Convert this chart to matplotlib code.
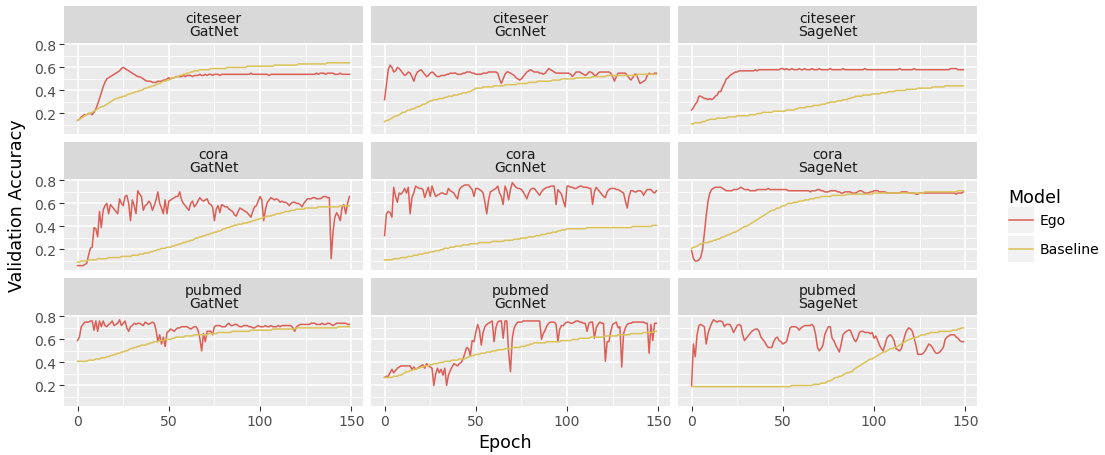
import numpy as np
import matplotlib.pyplot as plt

# validation accuracy per epoch (150 epochs) for each dataset / network
epochs = np.arange(150)

citeseer_gat_ego = [
    0.14, 0.15, 0.17, 0.18, 0.19, 0.19, 0.20, 0.20, 0.19, 0.21,
    0.24, 0.28, 0.33, 0.38, 0.43, 0.47, 0.50, 0.51, 0.52, 0.53,
    0.54, 0.55, 0.56, 0.57, 0.59, 0.60, 0.59, 0.58, 0.57, 0.56,
    0.55, 0.54, 0.53, 0.52, 0.52, 0.51, 0.50, 0.49, 0.48, 0.48,
    0.48, 0.47, 0.47, 0.47, 0.48, 0.48, 0.48, 0.49, 0.49, 0.50,
    0.51, 0.50, 0.51, 0.51, 0.52, 0.52, 0.52, 0.52, 0.53, 0.52,
    0.53, 0.53, 0.53, 0.52, 0.53, 0.53, 0.53, 0.54, 0.53, 0.53,
    0.54, 0.53, 0.54, 0.54, 0.53, 0.54, 0.54, 0.54, 0.53, 0.54,
    0.54, 0.54, 0.54, 0.54, 0.54, 0.54, 0.54, 0.54, 0.54, 0.54,
    0.54, 0.54, 0.54, 0.54, 0.54, 0.55, 0.54, 0.54, 0.54, 0.54,
    0.54, 0.54, 0.54, 0.54, 0.54, 0.53, 0.54, 0.54, 0.54, 0.54,
    0.54, 0.54, 0.54, 0.54, 0.54, 0.54, 0.54, 0.54, 0.54, 0.54,
    0.54, 0.54, 0.54, 0.54, 0.54, 0.54, 0.54, 0.54, 0.54, 0.54,
    0.54, 0.55, 0.54, 0.55, 0.55, 0.55, 0.54, 0.55, 0.55, 0.55,
    0.55, 0.54, 0.54, 0.54, 0.55, 0.54, 0.54, 0.54, 0.54, 0.54]
citeseer_gat_base = [
    0.14, 0.15, 0.16, 0.17, 0.18, 0.19, 0.20, 0.20, 0.21, 0.22,
    0.23, 0.24, 0.25, 0.26, 0.26, 0.27, 0.28, 0.29, 0.30, 0.31,
    0.32, 0.33, 0.33, 0.34, 0.34, 0.35, 0.35, 0.36, 0.37, 0.37,
    0.38, 0.38, 0.39, 0.39, 0.40, 0.40, 0.41, 0.42, 0.42, 0.43,
    0.43, 0.44, 0.44, 0.45, 0.46, 0.46, 0.47, 0.48, 0.48, 0.49,
    0.49, 0.50, 0.51, 0.51, 0.52, 0.52, 0.53, 0.53, 0.54, 0.54,
    0.55, 0.55, 0.56, 0.56, 0.57, 0.57, 0.57, 0.58, 0.58, 0.58,
    0.58, 0.58, 0.58, 0.59, 0.59, 0.59, 0.59, 0.59, 0.59, 0.59,
    0.59, 0.59, 0.60, 0.60, 0.60, 0.60, 0.60, 0.60, 0.60, 0.60,
    0.60, 0.60, 0.60, 0.61, 0.61, 0.61, 0.61, 0.61, 0.61, 0.61,
    0.61, 0.61, 0.61, 0.61, 0.61, 0.61, 0.61, 0.61, 0.62, 0.62,
    0.62, 0.62, 0.62, 0.62, 0.62, 0.62, 0.62, 0.62, 0.62, 0.62,
    0.62, 0.63, 0.63, 0.63, 0.63, 0.63, 0.63, 0.63, 0.63, 0.63,
    0.63, 0.63, 0.63, 0.63, 0.63, 0.63, 0.63, 0.64, 0.64, 0.64,
    0.64, 0.64, 0.64, 0.64, 0.64, 0.64, 0.64, 0.64, 0.64, 0.64]

citeseer_gcn_ego = [
    0.32, 0.45, 0.58, 0.62, 0.60, 0.56, 0.57, 0.60, 0.59, 0.57,
    0.55, 0.53, 0.54, 0.56, 0.55, 0.52, 0.48, 0.53, 0.56, 0.57,
    0.58, 0.56, 0.54, 0.52, 0.53, 0.55, 0.56, 0.55, 0.53, 0.52,
    0.52, 0.53, 0.53, 0.53, 0.54, 0.54, 0.55, 0.55, 0.55, 0.55,
    0.54, 0.54, 0.54, 0.55, 0.55, 0.56, 0.56, 0.56, 0.55, 0.55,
    0.54, 0.54, 0.54, 0.54, 0.55, 0.55, 0.55, 0.56, 0.56, 0.56,
    0.56, 0.56, 0.55, 0.50, 0.46, 0.50, 0.54, 0.56, 0.56, 0.55,
    0.54, 0.53, 0.51, 0.50, 0.49, 0.50, 0.52, 0.54, 0.56, 0.57,
    0.58, 0.57, 0.56, 0.56, 0.56, 0.55, 0.55, 0.54, 0.55, 0.57,
    0.59, 0.58, 0.57, 0.56, 0.55, 0.55, 0.55, 0.55, 0.55, 0.55,
    0.55, 0.55, 0.54, 0.52, 0.54, 0.56, 0.56, 0.56, 0.55, 0.54,
    0.53, 0.54, 0.56, 0.56, 0.55, 0.53, 0.53, 0.55, 0.56, 0.56,
    0.56, 0.56, 0.56, 0.56, 0.55, 0.52, 0.48, 0.52, 0.55, 0.55,
    0.55, 0.55, 0.55, 0.53, 0.51, 0.49, 0.51, 0.54, 0.54, 0.50,
    0.46, 0.47, 0.48, 0.49, 0.53, 0.55, 0.54, 0.54, 0.55, 0.55]
citeseer_gcn_base = [
    0.13, 0.14, 0.14, 0.15, 0.16, 0.17, 0.18, 0.18, 0.19, 0.20,
    0.21, 0.21, 0.22, 0.23, 0.23, 0.24, 0.24, 0.25, 0.26, 0.26,
    0.27, 0.28, 0.28, 0.29, 0.30, 0.31, 0.31, 0.32, 0.32, 0.32,
    0.33, 0.33, 0.33, 0.34, 0.34, 0.35, 0.35, 0.35, 0.36, 0.36,
    0.36, 0.37, 0.37, 0.38, 0.38, 0.38, 0.39, 0.39, 0.40, 0.41,
    0.42, 0.42, 0.42, 0.42, 0.43, 0.43, 0.43, 0.43, 0.43, 0.43,
    0.44, 0.44, 0.44, 0.44, 0.44, 0.44, 0.45, 0.45, 0.45, 0.45,
    0.45, 0.45, 0.45, 0.46, 0.46, 0.46, 0.46, 0.46, 0.46, 0.47,
    0.47, 0.47, 0.47, 0.47, 0.48, 0.48, 0.48, 0.48, 0.48, 0.48,
    0.48, 0.48, 0.49, 0.49, 0.49, 0.49, 0.49, 0.50, 0.50, 0.50,
    0.50, 0.50, 0.50, 0.50, 0.50, 0.51, 0.51, 0.51, 0.51, 0.51,
    0.51, 0.51, 0.51, 0.51, 0.52, 0.52, 0.52, 0.52, 0.52, 0.52,
    0.52, 0.52, 0.53, 0.53, 0.53, 0.53, 0.53, 0.53, 0.53, 0.53,
    0.53, 0.53, 0.53, 0.53, 0.53, 0.53, 0.53, 0.53, 0.53, 0.54,
    0.54, 0.54, 0.54, 0.54, 0.54, 0.54, 0.54, 0.54, 0.54, 0.54]

citeseer_sage_ego = [
    0.23, 0.25, 0.28, 0.30, 0.35, 0.35, 0.34, 0.33, 0.33, 0.32,
    0.33, 0.32, 0.33, 0.35, 0.36, 0.39, 0.39, 0.43, 0.46, 0.50,
    0.51, 0.53, 0.54, 0.55, 0.56, 0.56, 0.57, 0.57, 0.57, 0.57,
    0.57, 0.57, 0.57, 0.57, 0.57, 0.58, 0.57, 0.58, 0.58, 0.58,
    0.58, 0.58, 0.58, 0.58, 0.58, 0.58, 0.58, 0.58, 0.58, 0.59,
    0.59, 0.58, 0.59, 0.58, 0.58, 0.59, 0.58, 0.58, 0.58, 0.59,
    0.58, 0.58, 0.59, 0.58, 0.58, 0.58, 0.59, 0.58, 0.58, 0.58,
    0.59, 0.58, 0.58, 0.58, 0.58, 0.58, 0.59, 0.58, 0.58, 0.58,
    0.58, 0.58, 0.58, 0.59, 0.58, 0.58, 0.58, 0.58, 0.58, 0.58,
    0.58, 0.58, 0.58, 0.58, 0.58, 0.59, 0.58, 0.58, 0.58, 0.58,
    0.58, 0.58, 0.58, 0.58, 0.58, 0.58, 0.58, 0.58, 0.58, 0.58,
    0.58, 0.58, 0.58, 0.58, 0.59, 0.58, 0.58, 0.58, 0.58, 0.58,
    0.58, 0.58, 0.59, 0.58, 0.58, 0.58, 0.58, 0.58, 0.58, 0.58,
    0.58, 0.58, 0.58, 0.58, 0.58, 0.58, 0.58, 0.58, 0.58, 0.58,
    0.58, 0.58, 0.59, 0.59, 0.59, 0.59, 0.58, 0.58, 0.58, 0.58]
citeseer_sage_base = [
    0.11, 0.11, 0.12, 0.12, 0.12, 0.12, 0.13, 0.13, 0.14, 0.14,
    0.15, 0.15, 0.15, 0.15, 0.16, 0.16, 0.16, 0.16, 0.16, 0.16,
    0.17, 0.17, 0.17, 0.17, 0.17, 0.18, 0.18, 0.18, 0.18, 0.18,
    0.18, 0.18, 0.19, 0.19, 0.19, 0.19, 0.20, 0.20, 0.20, 0.21,
    0.21, 0.21, 0.21, 0.21, 0.21, 0.22, 0.22, 0.22, 0.22, 0.22,
    0.22, 0.22, 0.23, 0.23, 0.23, 0.23, 0.23, 0.24, 0.24, 0.25,
    0.25, 0.25, 0.25, 0.26, 0.26, 0.26, 0.26, 0.27, 0.27, 0.27,
    0.27, 0.28, 0.28, 0.28, 0.29, 0.29, 0.30, 0.30, 0.30, 0.30,
    0.31, 0.31, 0.31, 0.32, 0.32, 0.32, 0.33, 0.33, 0.34, 0.34,
    0.35, 0.35, 0.35, 0.35, 0.36, 0.36, 0.36, 0.36, 0.36, 0.37,
    0.37, 0.37, 0.37, 0.37, 0.38, 0.38, 0.38, 0.38, 0.39, 0.39,
    0.39, 0.39, 0.40, 0.40, 0.40, 0.40, 0.40, 0.40, 0.41, 0.41,
    0.41, 0.41, 0.41, 0.41, 0.42, 0.42, 0.42, 0.42, 0.42, 0.42,
    0.42, 0.42, 0.43, 0.43, 0.43, 0.43, 0.43, 0.43, 0.43, 0.44,
    0.44, 0.44, 0.44, 0.44, 0.44, 0.44, 0.44, 0.44, 0.44, 0.44]

cora_gat_ego = [
    0.06, 0.06, 0.06, 0.06, 0.07, 0.08, 0.15, 0.21, 0.22, 0.39,
    0.38, 0.31, 0.53, 0.39, 0.54, 0.58, 0.60, 0.51, 0.59, 0.57,
    0.55, 0.53, 0.51, 0.64, 0.60, 0.58, 0.66, 0.67, 0.60, 0.45,
    0.63, 0.58, 0.51, 0.71, 0.68, 0.66, 0.54, 0.58, 0.59, 0.62,
    0.60, 0.54, 0.58, 0.63, 0.70, 0.60, 0.56, 0.51, 0.63, 0.51,
    0.62, 0.63, 0.64, 0.65, 0.66, 0.66, 0.70, 0.63, 0.60, 0.58,
    0.56, 0.54, 0.60, 0.62, 0.57, 0.59, 0.62, 0.65, 0.63, 0.62,
    0.63, 0.64, 0.60, 0.59, 0.57, 0.45, 0.55, 0.58, 0.52, 0.59,
    0.58, 0.57, 0.57, 0.55, 0.54, 0.53, 0.50, 0.49, 0.53, 0.56,
    0.55, 0.54, 0.53, 0.52, 0.50, 0.48, 0.53, 0.57, 0.58, 0.62,
    0.66, 0.63, 0.45, 0.55, 0.61, 0.63, 0.65, 0.64, 0.63, 0.64,
    0.63, 0.61, 0.62, 0.61, 0.61, 0.60, 0.58, 0.60, 0.61, 0.61,
    0.60, 0.60, 0.59, 0.57, 0.60, 0.62, 0.64, 0.64, 0.64, 0.65,
    0.65, 0.64, 0.64, 0.64, 0.65, 0.66, 0.66, 0.65, 0.65, 0.12,
    0.35, 0.48, 0.52, 0.49, 0.45, 0.57, 0.59, 0.51, 0.60, 0.66]
cora_gat_base = [
    0.09, 0.09, 0.10, 0.10, 0.10, 0.10, 0.11, 0.11, 0.11, 0.11,
    0.11, 0.12, 0.12, 0.12, 0.12, 0.12, 0.12, 0.13, 0.13, 0.13,
    0.13, 0.13, 0.13, 0.13, 0.14, 0.14, 0.14, 0.14, 0.14, 0.14,
    0.15, 0.15, 0.15, 0.15, 0.16, 0.16, 0.16, 0.17, 0.17, 0.17,
    0.18, 0.18, 0.19, 0.19, 0.20, 0.20, 0.21, 0.21, 0.21, 0.22,
    0.22, 0.22, 0.23, 0.23, 0.24, 0.24, 0.25, 0.25, 0.26, 0.26,
    0.27, 0.27, 0.28, 0.28, 0.29, 0.30, 0.30, 0.31, 0.31, 0.32,
    0.32, 0.33, 0.33, 0.34, 0.34, 0.35, 0.35, 0.36, 0.36, 0.37,
    0.38, 0.38, 0.39, 0.39, 0.40, 0.40, 0.41, 0.41, 0.42, 0.42,
    0.42, 0.43, 0.43, 0.43, 0.44, 0.44, 0.45, 0.45, 0.46, 0.46,
    0.47, 0.47, 0.48, 0.48, 0.49, 0.49, 0.49, 0.50, 0.50, 0.51,
    0.51, 0.51, 0.52, 0.52, 0.53, 0.53, 0.53, 0.54, 0.54, 0.54,
    0.55, 0.55, 0.55, 0.55, 0.55, 0.56, 0.56, 0.56, 0.56, 0.56,
    0.56, 0.56, 0.57, 0.57, 0.57, 0.57, 0.57, 0.57, 0.57, 0.57,
    0.57, 0.57, 0.57, 0.57, 0.58, 0.58, 0.58, 0.58, 0.58, 0.58]

cora_gcn_ego = [
    0.32, 0.51, 0.53, 0.52, 0.48, 0.74, 0.66, 0.61, 0.69, 0.68,
    0.70, 0.73, 0.69, 0.74, 0.51, 0.65, 0.69, 0.75, 0.74, 0.73,
    0.73, 0.72, 0.65, 0.70, 0.74, 0.66, 0.75, 0.70, 0.66, 0.67,
    0.68, 0.69, 0.69, 0.68, 0.68, 0.73, 0.71, 0.70, 0.69, 0.66,
    0.64, 0.72, 0.74, 0.75, 0.76, 0.76, 0.76, 0.74, 0.72, 0.66,
    0.73, 0.73, 0.72, 0.71, 0.69, 0.61, 0.51, 0.63, 0.70, 0.71,
    0.72, 0.73, 0.75, 0.69, 0.66, 0.59, 0.75, 0.71, 0.63, 0.72,
    0.78, 0.76, 0.74, 0.73, 0.73, 0.72, 0.70, 0.67, 0.64, 0.69,
    0.72, 0.73, 0.73, 0.71, 0.69, 0.67, 0.70, 0.72, 0.73, 0.74,
    0.74, 0.75, 0.75, 0.75, 0.59, 0.72, 0.70, 0.68, 0.62, 0.57,
    0.75, 0.75, 0.74, 0.74, 0.73, 0.73, 0.74, 0.75, 0.75, 0.74,
    0.74, 0.74, 0.73, 0.73, 0.59, 0.70, 0.74, 0.72, 0.70, 0.68,
    0.66, 0.65, 0.70, 0.72, 0.73, 0.73, 0.73, 0.72, 0.72, 0.71,
    0.70, 0.69, 0.62, 0.56, 0.66, 0.71, 0.71, 0.70, 0.70, 0.71,
    0.71, 0.70, 0.67, 0.70, 0.72, 0.72, 0.72, 0.70, 0.69, 0.71]
cora_gcn_base = [
    0.11, 0.11, 0.11, 0.11, 0.11, 0.12, 0.12, 0.12, 0.12, 0.13,
    0.13, 0.13, 0.13, 0.14, 0.14, 0.14, 0.15, 0.15, 0.15, 0.16,
    0.16, 0.16, 0.17, 0.17, 0.17, 0.18, 0.18, 0.18, 0.19, 0.19,
    0.19, 0.20, 0.20, 0.21, 0.21, 0.21, 0.22, 0.22, 0.22, 0.23,
    0.23, 0.23, 0.23, 0.24, 0.24, 0.24, 0.24, 0.25, 0.25, 0.25,
    0.25, 0.25, 0.26, 0.26, 0.26, 0.26, 0.26, 0.26, 0.26, 0.27,
    0.27, 0.27, 0.27, 0.27, 0.27, 0.27, 0.28, 0.28, 0.28, 0.28,
    0.28, 0.29, 0.29, 0.29, 0.29, 0.30, 0.30, 0.30, 0.30, 0.31,
    0.31, 0.31, 0.31, 0.32, 0.32, 0.32, 0.33, 0.33, 0.33, 0.34,
    0.34, 0.34, 0.35, 0.35, 0.35, 0.36, 0.36, 0.37, 0.37, 0.37,
    0.38, 0.38, 0.38, 0.38, 0.38, 0.38, 0.38, 0.38, 0.38, 0.38,
    0.38, 0.39, 0.39, 0.39, 0.39, 0.39, 0.39, 0.39, 0.39, 0.39,
    0.39, 0.39, 0.39, 0.39, 0.39, 0.39, 0.39, 0.39, 0.39, 0.39,
    0.39, 0.39, 0.39, 0.39, 0.39, 0.39, 0.40, 0.40, 0.40, 0.40,
    0.40, 0.40, 0.40, 0.40, 0.40, 0.40, 0.40, 0.41, 0.41, 0.41]

cora_sage_ego = [
    0.19, 0.12, 0.10, 0.10, 0.11, 0.13, 0.20, 0.34, 0.49, 0.62,
    0.69, 0.72, 0.73, 0.74, 0.74, 0.74, 0.74, 0.73, 0.72, 0.71,
    0.71, 0.71, 0.71, 0.72, 0.72, 0.72, 0.73, 0.74, 0.73, 0.72,
    0.72, 0.72, 0.71, 0.71, 0.71, 0.71, 0.72, 0.72, 0.72, 0.72,
    0.72, 0.72, 0.73, 0.72, 0.72, 0.72, 0.72, 0.72, 0.72, 0.72,
    0.72, 0.72, 0.72, 0.71, 0.71, 0.71, 0.71, 0.71, 0.71, 0.71,
    0.71, 0.71, 0.71, 0.71, 0.71, 0.70, 0.71, 0.71, 0.71, 0.72,
    0.72, 0.71, 0.71, 0.70, 0.70, 0.70, 0.71, 0.71, 0.71, 0.71,
    0.70, 0.70, 0.69, 0.69, 0.70, 0.70, 0.70, 0.70, 0.69, 0.69,
    0.69, 0.70, 0.71, 0.71, 0.70, 0.69, 0.69, 0.69, 0.70, 0.70,
    0.71, 0.71, 0.71, 0.70, 0.70, 0.70, 0.70, 0.69, 0.69, 0.69,
    0.69, 0.69, 0.69, 0.69, 0.69, 0.70, 0.70, 0.70, 0.70, 0.69,
    0.69, 0.69, 0.69, 0.68, 0.68, 0.69, 0.69, 0.69, 0.69, 0.69,
    0.69, 0.69, 0.69, 0.69, 0.69, 0.69, 0.69, 0.69, 0.69, 0.69,
    0.69, 0.69, 0.69, 0.69, 0.69, 0.68, 0.69, 0.69, 0.69, 0.70]
cora_sage_base = [
    0.21, 0.22, 0.22, 0.23, 0.24, 0.25, 0.25, 0.26, 0.26, 0.26,
    0.27, 0.27, 0.28, 0.28, 0.29, 0.29, 0.30, 0.31, 0.31, 0.32,
    0.33, 0.33, 0.34, 0.35, 0.35, 0.36, 0.37, 0.38, 0.39, 0.40,
    0.40, 0.41, 0.42, 0.43, 0.44, 0.45, 0.46, 0.47, 0.48, 0.49,
    0.50, 0.51, 0.52, 0.53, 0.54, 0.54, 0.55, 0.56, 0.56, 0.57,
    0.58, 0.58, 0.59, 0.60, 0.60, 0.60, 0.61, 0.61, 0.61, 0.62,
    0.62, 0.62, 0.63, 0.63, 0.63, 0.64, 0.64, 0.64, 0.65, 0.65,
    0.65, 0.66, 0.66, 0.66, 0.66, 0.66, 0.66, 0.67, 0.67, 0.67,
    0.67, 0.67, 0.67, 0.67, 0.67, 0.68, 0.68, 0.68, 0.68, 0.68,
    0.68, 0.68, 0.68, 0.68, 0.68, 0.68, 0.68, 0.68, 0.68, 0.68,
    0.69, 0.69, 0.69, 0.69, 0.69, 0.69, 0.69, 0.69, 0.69, 0.69,
    0.69, 0.69, 0.69, 0.69, 0.69, 0.69, 0.69, 0.69, 0.69, 0.69,
    0.69, 0.69, 0.69, 0.69, 0.69, 0.69, 0.69, 0.69, 0.70, 0.70,
    0.70, 0.70, 0.70, 0.70, 0.70, 0.70, 0.70, 0.70, 0.70, 0.70,
    0.70, 0.70, 0.70, 0.70, 0.70, 0.70, 0.71, 0.71, 0.71, 0.71]

pubmed_gat_ego = [
    0.59, 0.62, 0.71, 0.73, 0.75, 0.75, 0.75, 0.76, 0.76, 0.68,
    0.76, 0.67, 0.76, 0.71, 0.76, 0.72, 0.71, 0.73, 0.74, 0.76,
    0.72, 0.73, 0.74, 0.77, 0.72, 0.74, 0.76, 0.70, 0.67, 0.71,
    0.72, 0.74, 0.73, 0.74, 0.74, 0.73, 0.72, 0.75, 0.74, 0.73,
    0.74, 0.75, 0.74, 0.68, 0.58, 0.64, 0.56, 0.62, 0.54, 0.66,
    0.67, 0.69, 0.68, 0.67, 0.69, 0.70, 0.70, 0.71, 0.71, 0.71,
    0.71, 0.70, 0.69, 0.70, 0.71, 0.71, 0.68, 0.61, 0.50, 0.65,
    0.58, 0.67, 0.67, 0.67, 0.64, 0.71, 0.72, 0.72, 0.72, 0.71,
    0.71, 0.71, 0.73, 0.74, 0.72, 0.72, 0.73, 0.73, 0.72, 0.71,
    0.71, 0.72, 0.72, 0.72, 0.71, 0.71, 0.70, 0.70, 0.71, 0.72,
    0.71, 0.71, 0.71, 0.72, 0.71, 0.71, 0.72, 0.71, 0.71, 0.71,
    0.72, 0.71, 0.72, 0.72, 0.72, 0.72, 0.72, 0.72, 0.70, 0.67,
    0.71, 0.72, 0.73, 0.73, 0.73, 0.73, 0.73, 0.73, 0.74, 0.74,
    0.74, 0.73, 0.73, 0.73, 0.74, 0.73, 0.73, 0.74, 0.74, 0.73,
    0.72, 0.73, 0.74, 0.74, 0.74, 0.74, 0.74, 0.74, 0.73, 0.73]
pubmed_gat_base = [
    0.41, 0.41, 0.41, 0.41, 0.41, 0.41, 0.42, 0.42, 0.42, 0.42,
    0.43, 0.43, 0.43, 0.44, 0.44, 0.44, 0.45, 0.45, 0.46, 0.46,
    0.47, 0.47, 0.48, 0.48, 0.49, 0.49, 0.50, 0.50, 0.51, 0.52,
    0.52, 0.53, 0.53, 0.54, 0.54, 0.55, 0.55, 0.55, 0.56, 0.56,
    0.57, 0.57, 0.58, 0.58, 0.58, 0.59, 0.59, 0.59, 0.60, 0.60,
    0.60, 0.60, 0.61, 0.61, 0.62, 0.62, 0.62, 0.62, 0.62, 0.63,
    0.63, 0.63, 0.63, 0.63, 0.64, 0.64, 0.64, 0.64, 0.64, 0.64,
    0.64, 0.64, 0.65, 0.65, 0.65, 0.65, 0.65, 0.66, 0.66, 0.66,
    0.66, 0.66, 0.66, 0.66, 0.66, 0.67, 0.67, 0.67, 0.67, 0.67,
    0.67, 0.67, 0.67, 0.67, 0.67, 0.68, 0.68, 0.68, 0.68, 0.68,
    0.68, 0.68, 0.68, 0.68, 0.68, 0.68, 0.68, 0.69, 0.69, 0.69,
    0.69, 0.69, 0.69, 0.69, 0.69, 0.69, 0.69, 0.69, 0.69, 0.69,
    0.70, 0.70, 0.70, 0.70, 0.70, 0.70, 0.70, 0.70, 0.70, 0.70,
    0.70, 0.70, 0.70, 0.70, 0.70, 0.70, 0.70, 0.70, 0.70, 0.70,
    0.70, 0.70, 0.70, 0.71, 0.71, 0.71, 0.71, 0.71, 0.71, 0.71]

pubmed_gcn_ego = [
    0.27, 0.28, 0.28, 0.31, 0.34, 0.31, 0.33, 0.35, 0.36, 0.37,
    0.37, 0.37, 0.37, 0.37, 0.37, 0.34, 0.36, 0.34, 0.35, 0.36,
    0.37, 0.38, 0.35, 0.39, 0.37, 0.36, 0.35, 0.20, 0.30, 0.35,
    0.31, 0.34, 0.29, 0.35, 0.20, 0.29, 0.33, 0.36, 0.39, 0.38,
    0.37, 0.39, 0.40, 0.43, 0.48, 0.53, 0.52, 0.46, 0.59, 0.58,
    0.66, 0.73, 0.68, 0.55, 0.66, 0.71, 0.73, 0.74, 0.75, 0.76,
    0.58, 0.70, 0.75, 0.76, 0.76, 0.61, 0.76, 0.76, 0.49, 0.32,
    0.61, 0.70, 0.73, 0.75, 0.75, 0.75, 0.76, 0.76, 0.76, 0.76,
    0.76, 0.76, 0.76, 0.76, 0.76, 0.76, 0.60, 0.65, 0.68, 0.72,
    0.74, 0.75, 0.75, 0.75, 0.73, 0.58, 0.69, 0.72, 0.72, 0.74,
    0.75, 0.75, 0.74, 0.74, 0.75, 0.76, 0.76, 0.75, 0.75, 0.74,
    0.74, 0.67, 0.74, 0.75, 0.75, 0.61, 0.70, 0.73, 0.75, 0.74,
    0.74, 0.41, 0.58, 0.58, 0.67, 0.73, 0.74, 0.75, 0.70, 0.71,
    0.36, 0.65, 0.70, 0.73, 0.74, 0.74, 0.75, 0.75, 0.75, 0.75,
    0.75, 0.75, 0.75, 0.74, 0.74, 0.48, 0.73, 0.59, 0.74, 0.74]
pubmed_gcn_base = [
    0.27, 0.27, 0.27, 0.27, 0.27, 0.28, 0.28, 0.28, 0.29, 0.29,
    0.30, 0.31, 0.32, 0.32, 0.33, 0.33, 0.34, 0.34, 0.35, 0.35,
    0.36, 0.36, 0.37, 0.37, 0.37, 0.38, 0.38, 0.39, 0.39, 0.39,
    0.40, 0.40, 0.40, 0.41, 0.41, 0.41, 0.41, 0.42, 0.42, 0.42,
    0.42, 0.43, 0.43, 0.43, 0.43, 0.44, 0.45, 0.45, 0.46, 0.46,
    0.47, 0.47, 0.47, 0.48, 0.48, 0.48, 0.49, 0.49, 0.49, 0.50,
    0.50, 0.50, 0.51, 0.51, 0.51, 0.51, 0.52, 0.52, 0.52, 0.52,
    0.53, 0.53, 0.53, 0.53, 0.53, 0.54, 0.54, 0.54, 0.55, 0.55,
    0.56, 0.56, 0.57, 0.57, 0.57, 0.57, 0.57, 0.57, 0.57, 0.58,
    0.58, 0.58, 0.58, 0.58, 0.58, 0.58, 0.58, 0.59, 0.59, 0.59,
    0.59, 0.59, 0.59, 0.60, 0.60, 0.60, 0.60, 0.61, 0.61, 0.61,
    0.61, 0.61, 0.61, 0.62, 0.62, 0.62, 0.62, 0.62, 0.62, 0.62,
    0.62, 0.63, 0.63, 0.63, 0.63, 0.63, 0.63, 0.63, 0.64, 0.64,
    0.64, 0.64, 0.64, 0.64, 0.64, 0.65, 0.65, 0.65, 0.65, 0.65,
    0.65, 0.65, 0.66, 0.66, 0.66, 0.66, 0.66, 0.66, 0.67, 0.67]

pubmed_sage_ego = [
    0.20, 0.56, 0.45, 0.64, 0.72, 0.73, 0.72, 0.71, 0.56, 0.65,
    0.70, 0.74, 0.77, 0.76, 0.75, 0.76, 0.76, 0.75, 0.71, 0.73,
    0.73, 0.73, 0.70, 0.66, 0.69, 0.72, 0.73, 0.72, 0.64, 0.59,
    0.61, 0.63, 0.65, 0.67, 0.68, 0.69, 0.69, 0.67, 0.62, 0.60,
    0.58, 0.55, 0.53, 0.53, 0.53, 0.58, 0.61, 0.62, 0.59, 0.58,
    0.56, 0.57, 0.58, 0.64, 0.70, 0.71, 0.71, 0.71, 0.70, 0.68,
    0.70, 0.71, 0.72, 0.72, 0.72, 0.72, 0.73, 0.71, 0.64, 0.53,
    0.50, 0.52, 0.55, 0.64, 0.68, 0.71, 0.71, 0.61, 0.59, 0.55,
    0.52, 0.49, 0.56, 0.64, 0.66, 0.67, 0.68, 0.68, 0.64, 0.60,
    0.58, 0.61, 0.66, 0.67, 0.67, 0.66, 0.66, 0.66, 0.65, 0.66,
    0.61, 0.63, 0.59, 0.55, 0.52, 0.50, 0.55, 0.61, 0.63, 0.64,
    0.62, 0.59, 0.52, 0.51, 0.50, 0.52, 0.58, 0.64, 0.68, 0.70,
    0.69, 0.67, 0.61, 0.55, 0.47, 0.47, 0.47, 0.48, 0.50, 0.53,
    0.56, 0.55, 0.53, 0.50, 0.48, 0.48, 0.49, 0.51, 0.53, 0.60,
    0.62, 0.63, 0.64, 0.64, 0.64, 0.62, 0.61, 0.59, 0.58, 0.58]
pubmed_sage_base = [
    0.19, 0.19, 0.19, 0.19, 0.19, 0.19, 0.19, 0.19, 0.19, 0.19,
    0.19, 0.19, 0.19, 0.19, 0.19, 0.19, 0.19, 0.19, 0.19, 0.19,
    0.19, 0.19, 0.19, 0.19, 0.19, 0.19, 0.19, 0.19, 0.19, 0.19,
    0.19, 0.19, 0.19, 0.19, 0.19, 0.19, 0.19, 0.19, 0.19, 0.19,
    0.19, 0.19, 0.19, 0.19, 0.19, 0.19, 0.19, 0.19, 0.19, 0.19,
    0.19, 0.19, 0.19, 0.19, 0.19, 0.20, 0.20, 0.20, 0.20, 0.20,
    0.20, 0.20, 0.20, 0.20, 0.20, 0.20, 0.20, 0.21, 0.21, 0.21,
    0.21, 0.22, 0.22, 0.22, 0.23, 0.24, 0.24, 0.25, 0.26, 0.27,
    0.27, 0.28, 0.28, 0.29, 0.30, 0.31, 0.31, 0.32, 0.32, 0.34,
    0.35, 0.36, 0.37, 0.38, 0.39, 0.40, 0.41, 0.42, 0.43, 0.43,
    0.44, 0.45, 0.46, 0.47, 0.48, 0.49, 0.49, 0.50, 0.51, 0.52,
    0.52, 0.53, 0.53, 0.54, 0.55, 0.56, 0.57, 0.58, 0.59, 0.60,
    0.60, 0.61, 0.61, 0.62, 0.62, 0.63, 0.64, 0.64, 0.64, 0.65,
    0.65, 0.66, 0.66, 0.66, 0.66, 0.66, 0.67, 0.67, 0.67, 0.67,
    0.67, 0.67, 0.67, 0.68, 0.68, 0.68, 0.69, 0.69, 0.70, 0.70]

datasets = ['citeseer', 'cora', 'pubmed']
networks = ['GatNet', 'GcnNet', 'SageNet']
model_names = ['Ego', 'Baseline']
model_colors = ['#DB5F57', '#DBC257']

ego_runs = [[citeseer_gat_ego, citeseer_gcn_ego, citeseer_sage_ego],
            [cora_gat_ego, cora_gcn_ego, cora_sage_ego],
            [pubmed_gat_ego, pubmed_gcn_ego, pubmed_sage_ego]]
base_runs = [[citeseer_gat_base, citeseer_gcn_base, citeseer_sage_base],
             [cora_gat_base, cora_gcn_base, cora_sage_base],
             [pubmed_gat_base, pubmed_gcn_base, pubmed_sage_base]]

small = 10.1   # tick, strip and legend text
big = 12.6     # axis and legend titles

W, H = 1105, 456
fig = plt.figure(figsize=(W / 100, H / 100), dpi=100)


def box(x, y, w, h):
    # pixel rectangle measured from the top-left -> figure fraction
    return [x / W, 1 - (y + h) / H, w / W, h / H]


col_left = [64, 371, 678]
row_top = [7, 143, 279]
panel_w, strip_h, panel_h = 299, 37, 90

for r in range(3):
    for c in range(3):
        # facet strip
        st = fig.add_axes(box(col_left[c], row_top[r], panel_w, strip_h))
        st.set_facecolor('#D9D9D9')
        st.set_xticks([])
        st.set_yticks([])
        for s in st.spines.values():
            s.set_visible(False)
        st.text(0.5, 0.5, datasets[r] + '\n' + networks[c], ha='center', va='center',
                fontsize=small, color='#1A1A1A', linespacing=0.95, transform=st.transAxes)

        # panel
        ax = fig.add_axes(box(col_left[c], row_top[r] + strip_h + 1, panel_w, panel_h))
        ax.set_facecolor('#EBEBEB')
        for s in ax.spines.values():
            s.set_visible(False)
        ax.plot(epochs, ego_runs[r][c], color=model_colors[0], lw=1.1)
        ax.plot(epochs, base_runs[r][c], color=model_colors[1], lw=1.1)

        ax.set_xlim(-7.45, 156.45)
        ax.set_ylim(0.022, 0.803)
        ax.set_xticks([0, 50, 100, 150])
        ax.set_xticks([25, 75, 125], minor=True)
        ax.set_yticks([0.2, 0.4, 0.6, 0.8])
        ax.set_yticks([0.1, 0.3, 0.5, 0.7], minor=True)
        ax.set_yticklabels(['0.2', '0.4', '0.6', '0.8'])
        ax.set_axisbelow(True)
        ax.grid(which='major', color='white', lw=1.1)
        ax.grid(which='minor', color='white', lw=0.55)
        ax.tick_params(which='minor', length=0)
        ax.tick_params(which='major', length=3.5, width=0.8, color='#333333',
                       labelsize=small, labelcolor='#4D4D4D', pad=2)
        if c > 0:
            ax.tick_params(axis='y', left=False, labelleft=False)
        if r < 2:
            ax.tick_params(axis='x', bottom=False, labelbottom=False)

# axis titles
fig.text(505 / W, 1 - 443 / H, 'Epoch', ha='center', va='center', fontsize=big)
fig.text(17 / W, 1 - 206 / H, 'Validation Accuracy', ha='center', va='center',
         rotation=90, fontsize=big)

# legend
fig.text(1008 / W, 1 - 198 / H, 'Model', ha='left', va='center', fontsize=big)
for i, (name, col) in enumerate(zip(model_names, model_colors)):
    top = 208 + i * 29
    key = fig.add_axes(box(1008, top, 26, 26))
    key.set_facecolor('#F2F2F2')
    key.set_xticks([])
    key.set_yticks([])
    for s in key.spines.values():
        s.set_visible(False)
    key.set_xlim(0, 1)
    key.set_ylim(0, 1)
    key.plot([0.05, 0.95], [0.5, 0.5], color=col, lw=1.1)
    fig.text(1040 / W, 1 - (top + 13) / H, name, ha='left', va='center', fontsize=small)

fig.savefig('out.png', dpi=100)
